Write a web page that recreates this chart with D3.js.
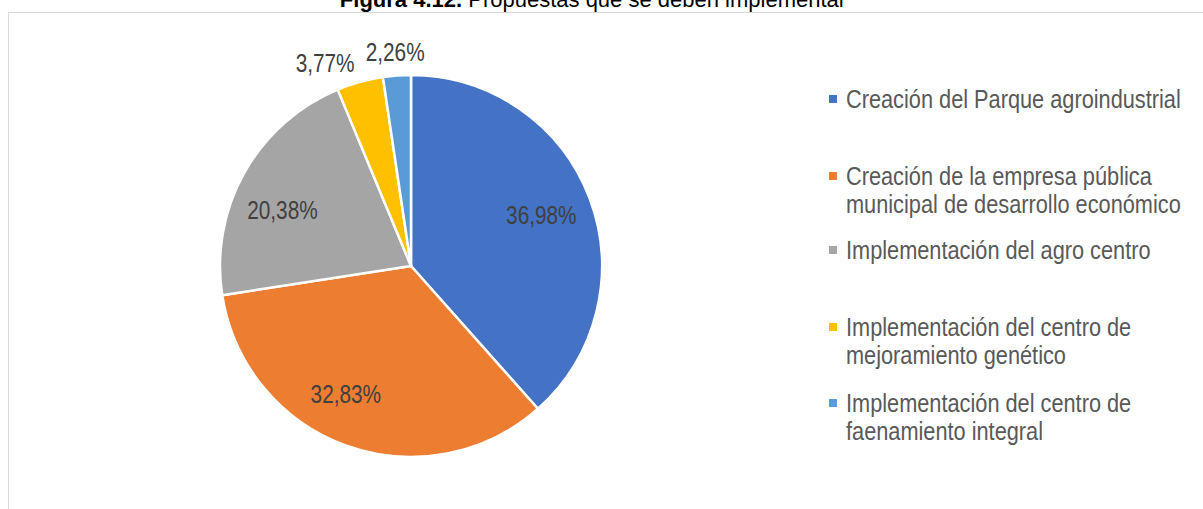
<!DOCTYPE html>
<html>
<head>
<meta charset="utf-8">
<script src="https://cdn.jsdelivr.net/npm/d3@7"></script>
<style>
  body { margin: 0; background: #fff; }
  svg { display: block; font-family: "Liberation Sans", Arial, sans-serif; }
</style>
</head>
<body>
<svg id="chart" width="1203" height="509"></svg>
<script>
// Chart data
const categories = [
    'Creación del Parque agroindustrial',
    'Creación de la empresa pública municipal de desarrollo económico',
    'Implementación del agro centro',
    'Implementación del centro de mejoramiento genético',
    'Implementación del centro de faenamiento integral'
];
const values = [36.98, 32.83, 20.38, 3.77, 2.26];
const valueLabels = ['36,98%', '32,83%', '20,38%', '3,77%', '2,26%'];
const colors = ['#4472c4', '#ed7d31', '#a5a5a5', '#ffc000', '#5b9bd5'];
// legend text split into lines as in the original
const legendLines = [
    ['Creación del Parque agroindustrial'],
    ['Creación de la empresa pública', 'municipal de desarrollo económico'],
    ['Implementación del agro centro'],
    ['Implementación del centro de', 'mejoramiento genético'],
    ['Implementación del centro de', 'faenamiento integral']
];
const legendRowY = [99, 176, 250, 327, 403];

// layout tweaks: narrow font look, label nudges (px)
const narrowLegend = 0.87;
const narrowLabel = 0.8;
const labelNudge = [[0, -2], [-18, -3], [-7, 12], [0, 0], [0, 0]];

const svg = d3.select('#chart');

// Title (cut off at the top in the original)
const title = svg.append('text')
    .attr('x', 593)
    .attr('y', 7)
    .attr('text-anchor', 'middle')
    .attr('font-size', 22)
    .attr('fill', '#000');
title.append('tspan').attr('font-weight', 'bold').text('Figura  4.12.');
title.append('tspan').text(' Propuestas que se deben implementar');

// Chart area border
svg.append('path')
    .attr('d', 'M8.5,509 V12.5 H1203')
    .attr('fill', 'none')
    .attr('stroke', '#d9d9d9')
    .attr('stroke-width', 1);

// Pie
const cx = 411, cy = 266, radius = 191;
const pie = d3.pie().sort(null).value(d => d);
const arcs = pie(values);
const arc = d3.arc().innerRadius(0).outerRadius(radius);

const g = svg.append('g').attr('transform', `translate(${cx},${cy})`);

g.selectAll('path')
    .data(arcs)
    .enter()
    .append('path')
    .attr('d', arc)
    .attr('fill', (d, i) => colors[i])
    .attr('stroke', '#fff')
    .attr('stroke-width', 2.5)
    .attr('stroke-linejoin', 'round');

// Data labels: big slices inside, small slices outside
const innerArc = d3.arc().innerRadius(radius * 0.73).outerRadius(radius * 0.73);
const labels = g.selectAll('g.val')
    .data(arcs)
    .enter()
    .append('g')
    .attr('class', 'val')
    .attr('transform', (d, i) => {
        let x, y;
        if (d.data > 10) {
            [x, y] = innerArc.centroid(d);
        } else {
            const mid = (d.startAngle + d.endAngle) / 2;
            const r = i === 3 ? radius + 20 : radius + 24;
            x = Math.sin(mid) * r;
            y = -Math.cos(mid) * r;
        }
        x += labelNudge[i][0];
        y += labelNudge[i][1];
        return `translate(${x},${y}) scale(${narrowLabel},1)`;
    });

labels.append('text')
    .attr('font-size', 26)
    .attr('fill', '#404040')
    .attr('dy', '0.35em')
    .attr('text-anchor', (d, i) => i === 3 ? 'end' : 'middle')
    .text((d, i) => valueLabels[i]);

// Legend
const legend = svg.append('g');
const items = legend.selectAll('g')
    .data(categories)
    .enter()
    .append('g')
    .attr('transform', (d, i) => `translate(829,${legendRowY[i]})`);

items.append('rect')
    .attr('x', 0)
    .attr('y', -4)
    .attr('width', 8)
    .attr('height', 8)
    .attr('fill', (d, i) => colors[i]);

items.append('text')
    .attr('transform', `translate(17,0) scale(${narrowLegend},1)`)
    .attr('font-size', 25)
    .attr('fill', '#595959')
    .each(function (d, i) {
        const t = d3.select(this);
        legendLines[i].forEach((line, j) => {
            t.append('tspan')
                .attr('x', 0)
                .attr('y', j * 28)
                .attr('dy', '0.35em')
                .text(line);
        });
    });
</script>
</body>
</html>
